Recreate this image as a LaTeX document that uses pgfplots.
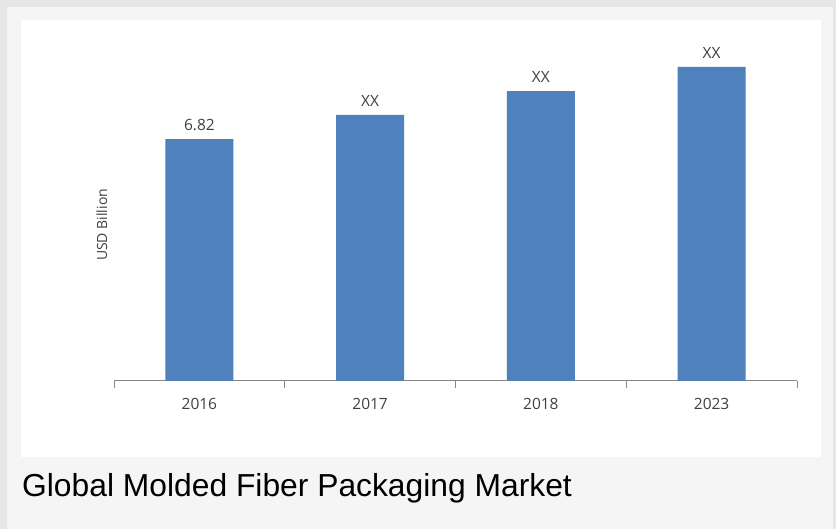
\documentclass[border=0pt]{standalone}
\usepackage{pgfplots}
\pgfplotsset{compat=1.18}
\usepackage{fontspec}
\setmainfont{Open Sans}
\newfontfamily\capfont{Liberation Sans}

\definecolor{barblue}{HTML}{4F81BD}
\definecolor{axisgray}{HTML}{868686}
\definecolor{labgray}{HTML}{404040}
\definecolor{outergray}{HTML}{E6E6E6}
\definecolor{innergray}{HTML}{F5F5F5}

\pgfplotstableread{
x val lab
0 6.82 6.82
1 7.50 XX
2 8.17 XX
3 8.85 XX
}\marketdata

\begin{document}
\begin{tikzpicture}[x=1pt,y=1pt]
% page and panel
\path[use as bounding box, fill=outergray] (0,0) rectangle (836,529);
\fill[innergray] (7,0) rectangle (833,522);
\fill[white] (21,72) rectangle (821,509);

\begin{axis}[
    at={(114pt,148pt)}, anchor=south west,
    scale only axis, width=683pt, height=354.8pt,
    xmin=-0.5, xmax=3.5, ymin=0, ymax=10,
    axis x line*=bottom, axis y line*=left,
    y axis line style={draw=none},
    x axis line style={axisgray, line width=1pt, -},
    ytick=\empty,
    xtick={0,1,2,3},
    xticklabels={2016,2017,2018,2023},
    major x tick style={draw=none},
    extra x ticks={-0.5,0.5,1.5,2.5,3.5},
    extra x tick labels={},
    extra x tick style={xtick align=outside, major tick length=7pt,
        major x tick style={axisgray, line width=1pt, draw=axisgray}},
    xticklabel style={font=\fontsize{15.5}{18}\selectfont, text=labgray, yshift=-9pt},
    ylabel={USD Billion},
    ylabel style={at={(axis description cs:-0.0176,0.44)}, anchor=center,
        font=\fontsize{14}{16}\selectfont, text=labgray},
    ybar, bar width=68pt,
    clip=false,
    point meta=explicit symbolic,
    nodes near coords,
    every node near coord/.append style={font=\fontsize{15.5}{18}\selectfont,
        text=labgray, anchor=south, yshift=5pt},
]
\addplot[fill=barblue, draw=none] table[x=x, y=val, meta=lab] {\marketdata};
\end{axis}

\node[anchor=base west, inner sep=0pt, font=\capfont\fontsize{31.8}{36}\selectfont]
    at (22,32) {Global Molded Fiber Packaging Market};
\end{tikzpicture}
\end{document}
